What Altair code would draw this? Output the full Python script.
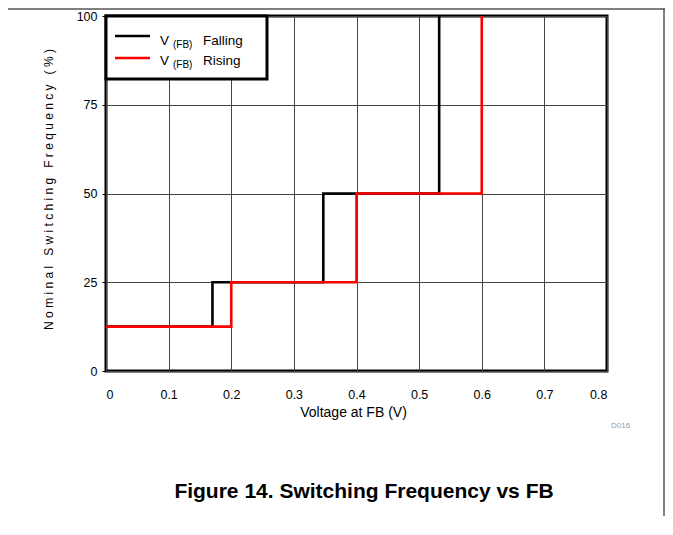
import altair as alt
import pandas as pd

# Data
fall_x = [0.0, 0.17, 0.17, 0.347, 0.347, 0.532, 0.532]
fall_y = [12.5, 12.5, 25, 25, 50, 50, 100]
rise_x = [0.0, 0.2, 0.2, 0.4, 0.4, 0.6, 0.6]
rise_y = [12.5, 12.5, 25, 25, 50, 50, 100]
x_ticks = [0, 0.1, 0.2, 0.3, 0.4, 0.5, 0.6, 0.7, 0.8]
y_ticks = [0, 25, 50, 75, 100]
series_names = ["Falling", "Rising"]
series_colors = ["black", "red"]

rows = []
for i, (x, y) in enumerate(zip(fall_x, fall_y)):
    rows.append({"v": x, "f": y, "s": "Falling", "i": i})
for i, (x, y) in enumerate(zip(rise_x, rise_y)):
    rows.append({"v": x, "f": y, "s": "Rising", "i": i})
df = pd.DataFrame(rows)

FONT = "Liberation Sans"
W, H = 501, 355
one = alt.Data(values=[{}])

ytitle = "\u00a0\u00a0\u00a0".join(
    "\u00a0".join(list(w)) for w in ["Nominal", "Switching", "Frequency", "(%)"]
)

lines = alt.Chart(df).mark_line(strokeWidth=2.6, interpolate="linear").encode(
    x=alt.X(
        "v:Q",
        scale=alt.Scale(domain=[0, 0.8], nice=False, zero=False),
        axis=alt.Axis(
            values=x_ticks, format=".1~f", grid=True, gridColor="#444", gridWidth=1,
            ticks=False, tickSize=0, domain=False, labelPadding=27,
            labelBaseline="alphabetic", labelFontSize=12.5, labelFont=FONT,
            labelColor="black",
            title="Voltage at FB (V)", titleFont=FONT, titleFontSize=14,
            titleFontWeight="normal", titleColor="black",
            titleBaseline="alphabetic", titleY=45, titleX=247, titleAlign="center",
        ),
    ),
    y=alt.Y(
        "f:Q",
        scale=alt.Scale(domain=[0, 100], nice=False),
        axis=alt.Axis(
            values=y_ticks, grid=True, gridColor="#444", gridWidth=1,
            ticks=True, tickSize=4, tickColor="black", tickWidth=1, domain=False,
            labelPadding=5, labelFontSize=12.5, labelFont=FONT, labelColor="black",
            title=ytitle, titleFont=FONT, titleFontSize=12,
            titleFontWeight="normal", titleColor="black",
            titleAngle=270, titleBaseline="alphabetic", titleX=-54, titleY=173,
            titleAlign="center",
        ),
    ),
    color=alt.Color("s:N", scale=alt.Scale(domain=series_names, range=series_colors), legend=None),
    order=alt.Order("i:Q"),
)

legend_box = alt.Chart(one).mark_rect(fill="white", stroke="black", strokeWidth=3).encode(
    x=alt.value(0), x2=alt.value(161), y=alt.value(0), y2=alt.value(63)
)
leg_fall = alt.Chart(one).mark_rule(color="black", strokeWidth=2.7).encode(
    x=alt.value(9), x2=alt.value(44), y=alt.value(20)
)
leg_rise = alt.Chart(one).mark_rule(color="red", strokeWidth=2.7).encode(
    x=alt.value(9), x2=alt.value(44), y=alt.value(42)
)

def txt(s, x, y, size, color="black", weight="normal", align="left"):
    return alt.Chart(one).mark_text(
        text=s, font=FONT, fontSize=size, color=color, fontWeight=weight,
        align=align, baseline="alphabetic",
    ).encode(x=alt.value(x), y=alt.value(y))

legend_texts = [
    txt("V", 54, 29, 13.5), txt("(FB)", 67, 32, 10), txt("Falling", 97, 29, 13.5),
    txt("V", 54, 49, 13.5), txt("(FB)", 67, 52, 10), txt("Rising", 97, 49, 13.5),
]

fig_title = txt("Figure 14. Switching Frequency vs FB", 258, 482, 21, weight="bold", align="center")
d016 = txt("D016", 505, 412, 8, color="#999999")

frame_top = alt.Chart(one).mark_rule(color="black", strokeWidth=1).encode(
    x=alt.value(-98), x2=alt.value(559), y=alt.value(-7)
)
frame_right = alt.Chart(one).mark_rule(color="black", strokeWidth=1).encode(
    x=alt.value(558), y=alt.value(-7), y2=alt.value(500)
)

chart = alt.layer(
    lines, legend_box, leg_fall, leg_rise, *legend_texts, fig_title, d016, frame_top, frame_right
).properties(
    width=W, height=H,
    autosize=alt.AutoSizeParams(type="none"),
    padding={"left": 98, "top": 8, "right": 58, "bottom": 145},
    background="white",
).configure_view(stroke="black", strokeWidth=3)

chart.save("out.html", embed_options={"renderer": "svg", "actions": False})
